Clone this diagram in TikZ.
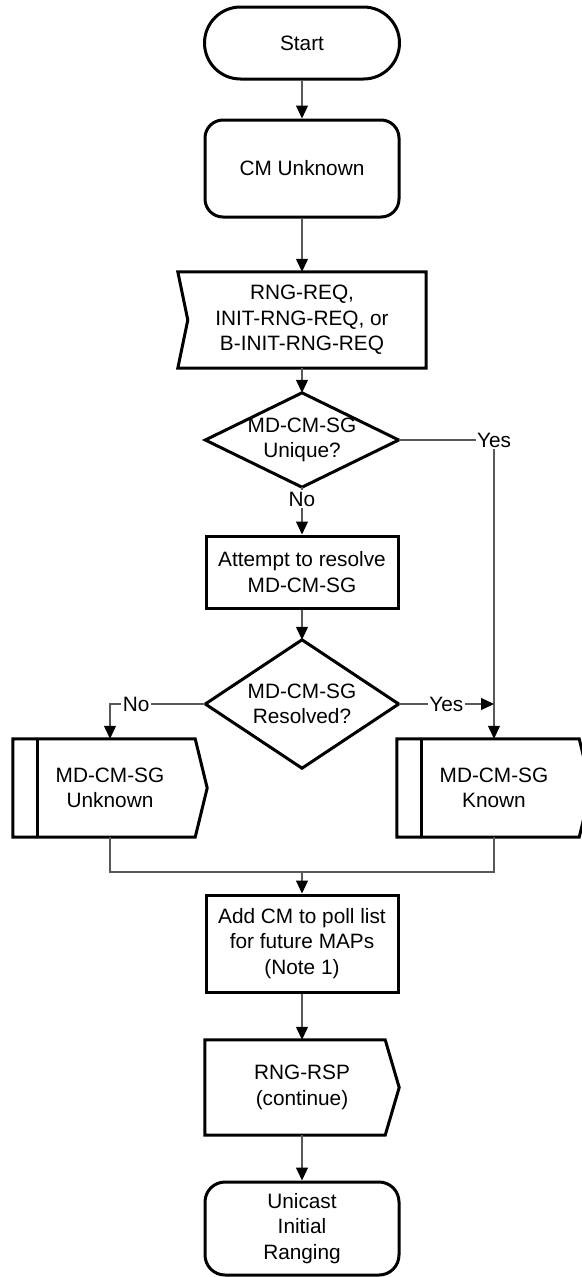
\documentclass[tikz,border=0pt]{standalone}
\usepackage{fontspec}
\setmainfont{Liberation Sans}
\usetikzlibrary{arrows.meta}
\newcommand\dfont{\fontsize{20.8}{25.5}\selectfont}
\begin{document}
\begin{tikzpicture}[x=1pt,y=-1pt,
  edge/.style={draw=black, line width=3pt, line join=miter},
  box/.style={edge, align=center, inner sep=0pt, font=\dfont},
  txt/.style={draw=none, align=center, inner sep=0pt, font=\dfont},
  conn/.style={draw=black!65, line width=1.2pt},
  arr/.style={conn, -{Triangle[width=12pt,length=13pt,color=black]}},
  lbl/.style={fill=white, inner sep=1.5pt, font=\dfont, text=black}]
\useasboundingbox (0,0) rectangle (581,1277);

% nodes
\node[box, rounded corners=36pt, minimum width=195pt, minimum height=72pt] (start) at (302,43) {Start};
\node[box, rounded corners=18pt, minimum width=194pt, minimum height=97pt] (cmu) at (302,168.5) {CM Unknown};

\node[txt, minimum width=248pt, minimum height=96pt] (req) at (302,320) {RNG-REQ,\\INIT-RNG-REQ, or\\B-INIT-RNG-REQ};
\draw[edge] (req.north west) -- (req.north east) -- (req.south east) -- (req.south west) -- ([xshift=10pt]req.west) -- cycle;

\node[txt, minimum width=193pt, minimum height=94pt] (d1) at (302,440) {MD-CM-SG\\Unique?};
\draw[edge] (d1.north) -- (d1.east) -- (d1.south) -- (d1.west) -- cycle;

\node[box, minimum width=192pt, minimum height=72pt] (att) at (302,572) {Attempt to resolve\\MD-CM-SG};

\node[txt, minimum width=193pt, minimum height=128pt] (d2) at (302,704) {MD-CM-SG\\Resolved?};
\draw[edge] (d2.north) -- (d2.east) -- (d2.south) -- (d2.west) -- cycle;

\node[txt, minimum width=194pt, minimum height=98pt] (unk) at (110,788) {MD-CM-SG\\Unknown};
\draw[edge] (unk.north west) -- ([xshift=-12pt]unk.north east) -- (unk.east) -- ([xshift=-12pt]unk.south east) -- (unk.south west) -- cycle;
\draw[edge] ([xshift=25pt]unk.north west) -- ([xshift=25pt]unk.south west);

\node[txt, minimum width=194pt, minimum height=98pt] (known) at (494,788) {MD-CM-SG\\Known};
\draw[edge] (known.north west) -- ([xshift=-12pt]known.north east) -- (known.east) -- ([xshift=-12pt]known.south east) -- (known.south west) -- cycle;
\draw[edge] ([xshift=25pt]known.north west) -- ([xshift=25pt]known.south west);

\node[box, minimum width=192pt, minimum height=97pt] (add) at (302,943.5) {Add CM to poll list\\for future MAPs\\(Note 1)};

\node[txt, minimum width=194pt, minimum height=95pt] (rsp) at (302,1087.5) {RNG-RSP\\(continue)};
\draw[edge] (rsp.north west) -- ([xshift=-14pt]rsp.north east) -- (rsp.east) -- ([xshift=-14pt]rsp.south east) -- (rsp.south west) -- cycle;

\node[box, rounded corners=20pt, minimum width=194pt, minimum height=93pt] (uni) at (302,1228.5) {Unicast\\Initial\\Ranging};

% connectors
\draw[arr] (start.south) -- (cmu.north);
\draw[arr] (cmu.south) -- (req.north);
\draw[arr] (req.south) -- (d1.north);
\draw[arr] (d1.south) -- node[lbl, pos=0.25] {No} (att.north);
\draw[arr] (d1.east) -| node[lbl, pos=0.5] {Yes} (known.north);
\draw[arr] (att.south) -- (d2.north);
\draw[arr] (d2.west) -| node[lbl, pos=0.363] {No} (unk.north);
\coordinate (m) at (known.north |- d2.east);
\draw[arr] (d2.east) -- node[lbl] {Yes} (m);
\coordinate (j) at (302,872);
\draw[conn] (unk.south) |- (j) -| (known.south);
\draw[arr] (j) -- (add.north);
\draw[arr] (add.south) -- (rsp.north);
\draw[arr] (rsp.south) -- (uni.north);
\end{tikzpicture}
\end{document}
